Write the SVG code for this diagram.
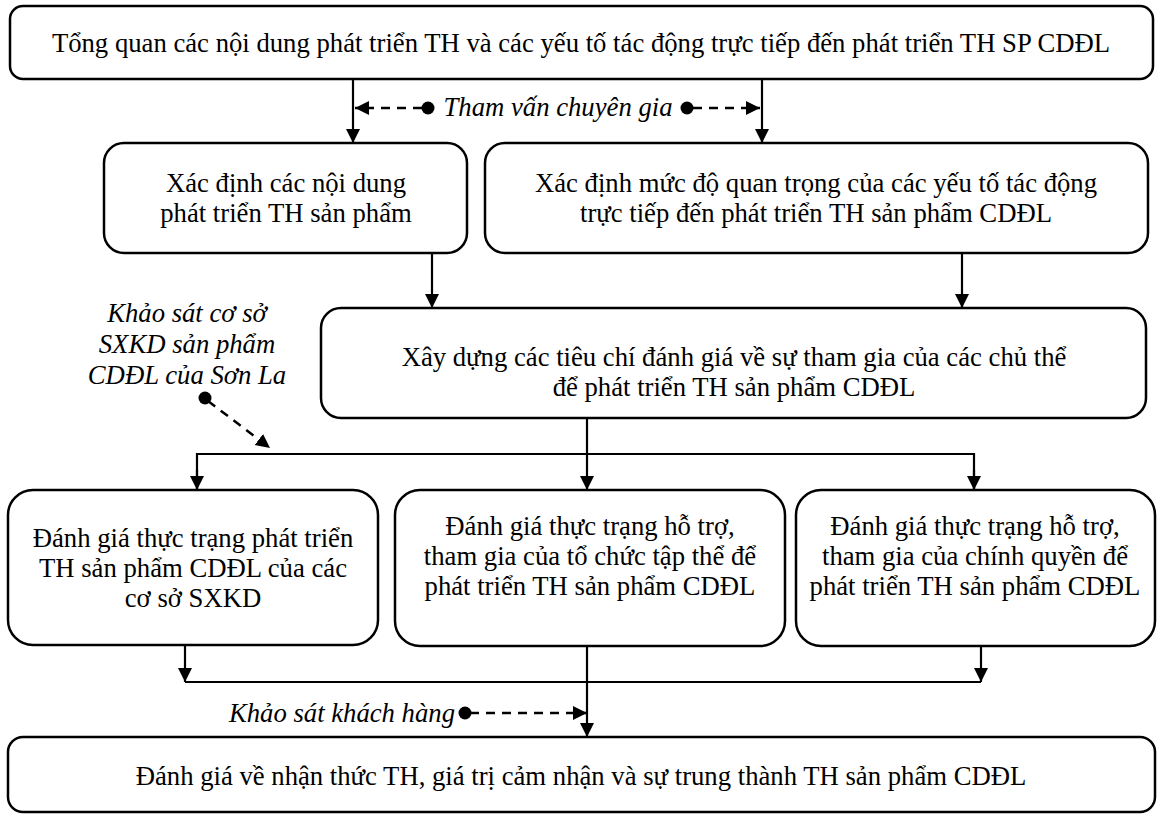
<svg xmlns="http://www.w3.org/2000/svg" width="1163" height="817" viewBox="0 0 1163 817">
  <style>
    .box { fill: #ffffff; stroke: #000000; stroke-width: 2.5; }
    .t { font-family: "Liberation Serif", "Times New Roman", serif; font-size: 26.7px; fill: #000000; text-anchor: middle; }
    .it { font-style: italic; }
    .ln { fill: none; stroke: #000000; stroke-width: 2.2; }
    .dash { fill: none; stroke: #000000; stroke-width: 2.5; stroke-dasharray: 9 7; }
    .dot { fill: #000000; }
  </style>
  <defs>
    <marker id="arrow" markerUnits="userSpaceOnUse" markerWidth="16" markerHeight="16" refX="14" refY="7" orient="auto">
      <path d="M0,0 L14,7 L0,14 Z" fill="#000000"/>
    </marker>
  </defs>

  <rect width="1163" height="817" fill="#ffffff"/>

  <!-- connectors -->
  <g id="connectors">
    <!-- overview to the two row-2 boxes -->
    <line class="ln" x1="353" y1="79" x2="353" y2="143" marker-end="url(#arrow)"/>
    <line class="ln" x1="762" y1="79" x2="762" y2="143" marker-end="url(#arrow)"/>
    <!-- expert consultation -->
    <line class="dash" x1="422" y1="108" x2="355" y2="108" marker-end="url(#arrow)"/>
    <line class="dash" x1="693" y1="108" x2="760" y2="108" marker-end="url(#arrow)"/>
    <circle class="dot" cx="428" cy="108" r="6.5"/>
    <circle class="dot" cx="687" cy="108" r="6.5"/>
    <!-- row 2 to criteria box -->
    <line class="ln" x1="432" y1="253" x2="432" y2="308" marker-end="url(#arrow)"/>
    <line class="ln" x1="962" y1="253" x2="962" y2="308" marker-end="url(#arrow)"/>
    <!-- criteria box to the three assessments -->
    <line class="ln" x1="587" y1="418" x2="587" y2="490" marker-end="url(#arrow)"/>
    <polyline class="ln" points="197,490 197,454 974,454 974,490"/>
    <line class="ln" x1="197" y1="470" x2="197" y2="490" marker-end="url(#arrow)"/>
    <line class="ln" x1="974" y1="470" x2="974" y2="490" marker-end="url(#arrow)"/>
    <!-- producer survey -->
    <line class="dash" x1="208" y1="401" x2="270" y2="448" marker-end="url(#arrow)"/>
    <circle class="dot" cx="205" cy="398" r="6.5"/>
    <!-- assessments to final box -->
    <line class="ln" x1="185" y1="645" x2="185" y2="682" marker-end="url(#arrow)"/>
    <line class="ln" x1="981" y1="646" x2="981" y2="682" marker-end="url(#arrow)"/>
    <line class="ln" x1="185" y1="682" x2="981" y2="682"/>
    <line class="ln" x1="587" y1="646" x2="587" y2="737" marker-end="url(#arrow)"/>
    <!-- customer survey -->
    <line class="dash" x1="470" y1="713" x2="587" y2="713" marker-end="url(#arrow)"/>
    <circle class="dot" cx="465" cy="713" r="6.5"/>
  </g>

  <!-- labels on connectors -->
  <text class="t it" x="558" y="116">Tham vấn chuyên gia</text>
  <text class="t it" x="187" y="322">Khảo sát cơ sở</text>
  <text class="t it" x="187" y="353">SXKD sản phẩm</text>
  <text class="t it" x="187" y="384">CDĐL của Sơn La</text>
  <text class="t it" x="455" y="722" style="text-anchor:end">Khảo sát khách hàng</text>

  <g id="overview">
    <rect class="box" x="10" y="6" width="1143" height="73" rx="13"/>
    <text class="t" x="581" y="52">Tổng quan các nội dung phát triển TH và các yếu tố tác động trực tiếp đến phát triển TH SP CDĐL</text>
  </g>

  <g id="content">
    <rect class="box" x="104" y="143" width="363" height="110" rx="20"/>
    <text class="t" x="286" y="192">Xác định các nội dung</text>
    <text class="t" x="286" y="222">phát triển TH sản phẩm</text>
  </g>

  <g id="factors">
    <rect class="box" x="485" y="143" width="663" height="110" rx="20"/>
    <text class="t" x="816" y="192">Xác định mức độ quan trọng của các yếu tố tác động</text>
    <text class="t" x="816" y="222">trực tiếp đến phát triển TH sản phẩm CDĐL</text>
  </g>

  <g id="criteria">
    <rect class="box" x="321" y="308" width="825" height="110" rx="20"/>
    <text class="t" x="734" y="366">Xây dựng các tiêu chí đánh giá về sự tham gia của các chủ thể</text>
    <text class="t" x="734" y="396">để phát triển TH sản phẩm CDĐL</text>
  </g>

  <g id="producers">
    <rect class="box" x="8" y="490" width="370" height="155" rx="25"/>
    <text class="t" x="193" y="547">Đánh giá thực trạng phát triển</text>
    <text class="t" x="193" y="577">TH sản phẩm CDĐL của các</text>
    <text class="t" x="193" y="607">cơ sở SXKD</text>
  </g>

  <g id="collective">
    <rect class="box" x="395" y="490" width="390" height="156" rx="25"/>
    <text class="t" x="590" y="535">Đánh giá thực trạng hỗ trợ,</text>
    <text class="t" x="590" y="565">tham gia của tổ chức tập thể để</text>
    <text class="t" x="590" y="595">phát triển TH sản phẩm CDĐL</text>
  </g>

  <g id="government">
    <rect class="box" x="796" y="490" width="359" height="156" rx="25"/>
    <text class="t" x="975" y="535">Đánh giá thực trạng hỗ trợ,</text>
    <text class="t" x="975" y="565">tham gia của chính quyền để</text>
    <text class="t" x="975" y="595">phát triển TH sản phẩm CDĐL</text>
  </g>

  <g id="perception">
    <rect class="box" x="8" y="737" width="1147" height="75" rx="15"/>
    <text class="t" x="581" y="785">Đánh giá về nhận thức TH, giá trị cảm nhận và sự trung thành TH sản phẩm CDĐL</text>
  </g>
</svg>
